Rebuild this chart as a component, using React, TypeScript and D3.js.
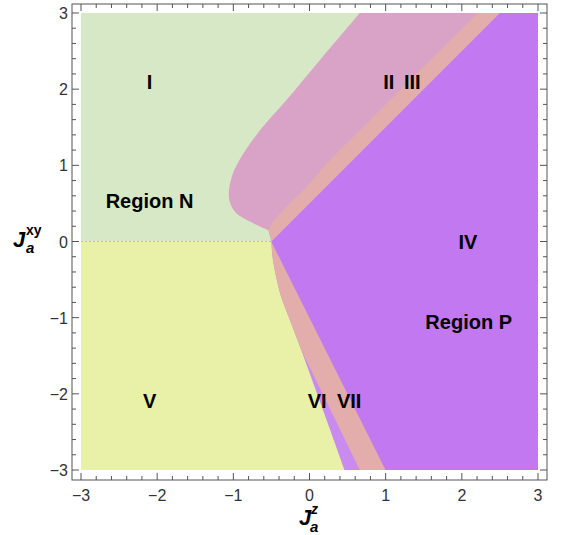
import { useEffect, useRef } from 'react';
import * as d3 from 'd3';

const W = 564;
const H = 535;

const xTicks = [-3, -2, -1, 0, 1, 2, 3];
const yTicks = [-3, -2, -1, 0, 1, 2, 3];

// region boundaries as (Jz, Jxy) points
const boundaryI_II = [[-0.54, 0.15], [-0.74, 0.24], [-0.96, 0.37], [-1.04, 0.5], [-1.06, 0.63], [-1.02, 0.85], [-0.92, 1.07], [-0.65, 1.46], [-0.3, 1.86], [0.135, 2.38], [0.66, 3]];
const boundaryII_III = [[-0.54, 0.15], [-0.48, 0.26], [-0.3, 0.46], [-0.04, 0.72], [0.27, 1.07], [0.79, 1.59], [2.21, 3]];
const boundaryIII_IV = [[-0.5, 0], [2.5, 3]];
const boundaryVII_IV = [[-0.5, 0], [1.0, -3]];
const boundaryV_VI = [[-0.5, 0], [-0.49, -0.15], [-0.47, -0.3], [-0.38, -0.7], [-0.25, -1.05], [-0.11, -1.42], [0.13, -2.08], [0.46, -3]];
const boundaryVI_VII = [[-0.11, -1.42], [0.66, -3]];
const zeroLine = [[-3, 0], [-0.5, 0]];

const regionLabels = [
  { text: 'I', x: -2.1, y: 2.1 },
  { text: 'II', x: 1.04, y: 2.1 },
  { text: 'III', x: 1.35, y: 2.1 },
  { text: 'Region N', x: -2.1, y: 0.53 },
  { text: 'IV', x: 2.08, y: 0 },
  { text: 'Region P', x: 2.09, y: -1.06 },
  { text: 'V', x: -2.1, y: -2.1 },
  { text: 'VI', x: 0.1, y: -2.1 },
  { text: 'VII', x: 0.52, y: -2.1 },
];

const colors = {
  I: '#d7e8c7',
  II: '#d9a3c8',
  III: '#e2adaa',
  IV: '#c178f0',
  V: '#e9f1a9',
  VI: '#c98bf0',
  VII: '#e2adaa',
};

const fmt = (d) => (d < 0 ? '\u2212' + Math.abs(d) : String(d));

const App = () => {
  const svgRef = useRef(null);

  useEffect(() => {
    const svg = d3.select(svgRef.current);
    svg.selectAll('*').remove();

    const x = d3.scaleLinear().domain([-3, 3]).range([81, 538]);
    const y = d3.scaleLinear().domain([-3, 3]).range([470, 13]);
    const pad = 9;
    const fx0 = x(-3) - pad, fx1 = x(3) + pad;
    const fy0 = y(3) - pad, fy1 = y(-3) + 10;

    const smooth = d3.line().x((d) => x(d[0])).y((d) => y(d[1])).curve(d3.curveCatmullRom);
    const straight = d3.line().x((d) => x(d[0])).y((d) => y(d[1]));
    const poly = (pts) => straight(pts) + 'Z';

    const defs = svg.append('defs');
    defs.append('clipPath').attr('id', 'dataClip')
      .append('rect')
      .attr('x', x(-3)).attr('y', y(3))
      .attr('width', x(3) - x(-3)).attr('height', y(-3) - y(3));

    // right of the V boundary (regions VI + VII)
    const rightOfV = smooth(boundaryV_VI) + straight([[3, -3], [3, 0]]).replace(/^M/, 'L') + 'Z';
    defs.append('clipPath').attr('id', 'rightOfV')
      .append('path').attr('d', rightOfV);

    const g = svg.append('g').attr('clip-path', 'url(#dataClip)');

    // I (top half) and V (bottom half)
    g.append('path').attr('d', poly([[-3, 0], [-3, 3], [3, 3], [3, 0]])).attr('fill', colors.I);
    g.append('path').attr('d', poly([[-3, 0], [-3, -3], [3, -3], [3, 0]])).attr('fill', colors.V);

    // II: right of the I|II curve
    g.append('path')
      .attr('d', smooth(boundaryI_II) + straight([[3, 3], [3, 0], [-0.5, 0]]).replace(/^M/, 'L') + 'Z')
      .attr('fill', colors.II);

    // III: right of the II|III curve
    g.append('path')
      .attr('d', smooth(boundaryII_III) + straight([[3, 3], [3, 0], [-0.5, 0]]).replace(/^M/, 'L') + 'Z')
      .attr('fill', colors.III);

    // VI: right of the V curve
    g.append('path').attr('d', rightOfV).attr('fill', colors.VI);

    // VII: band next to region IV, clipped to the right of V
    const k = (boundaryVI_VII[1][0] - boundaryVI_VII[0][0]) / (boundaryVI_VII[1][1] - boundaryVI_VII[0][1]);
    const top = [boundaryVI_VII[0][0] - k * boundaryVI_VII[0][1], 0];
    g.append('g').attr('clip-path', 'url(#rightOfV)')
      .append('path')
      .attr('d', poly([boundaryVII_IV[0], boundaryVII_IV[1], boundaryVI_VII[1], boundaryVI_VII[0], top]))
      .attr('fill', colors.VII);

    // IV
    g.append('path')
      .attr('d', poly([boundaryIII_IV[0], boundaryIII_IV[1], [3, 3], [3, -3], boundaryVII_IV[1]]))
      .attr('fill', colors.IV);

    // faint dotted line along Jxy = 0
    g.append('path')
      .attr('d', straight(zeroLine))
      .attr('stroke', '#cfb0da')
      .attr('stroke-width', 1)
      .attr('stroke-dasharray', '2,2')
      .attr('fill', 'none');

    // region labels
    svg.append('g')
      .selectAll('text')
      .data(regionLabels)
      .enter()
      .append('text')
      .attr('x', (d) => x(d.x))
      .attr('y', (d) => y(d.y) + 7)
      .attr('text-anchor', 'middle')
      .style('font-family', '"Liberation Sans", Arial, sans-serif')
      .style('font-weight', 'bold')
      .style('font-size', '20px')
      .attr('fill', '#000')
      .text((d) => d.text);

    // frame
    const frame = svg.append('g');
    frame.append('rect')
      .attr('x', fx0).attr('y', fy0)
      .attr('width', fx1 - fx0).attr('height', fy1 - fy0)
      .attr('fill', 'none').attr('stroke', '#555').attr('stroke-width', 1);

    const minors = d3.range(-3, 3.001, 0.2).filter((v) => Math.abs(v - Math.round(v)) > 1e-6);
    const tickColor = '#555';
    const drawTicks = (vals, len) => {
      vals.forEach((v) => {
        frame.append('line').attr('x1', x(v)).attr('x2', x(v)).attr('y1', fy1).attr('y2', fy1 - len).attr('stroke', tickColor);
        frame.append('line').attr('x1', x(v)).attr('x2', x(v)).attr('y1', fy0).attr('y2', fy0 + len).attr('stroke', tickColor);
        frame.append('line').attr('y1', y(v)).attr('y2', y(v)).attr('x1', fx0).attr('x2', fx0 + len).attr('stroke', tickColor);
        frame.append('line').attr('y1', y(v)).attr('y2', y(v)).attr('x1', fx1).attr('x2', fx1 - len).attr('stroke', tickColor);
      });
    };
    drawTicks(xTicks, 7);
    drawTicks(minors, 4);

    const labelStyle = (sel) => sel
      .style('font-family', '"Liberation Sans", Arial, sans-serif')
      .style('font-size', '16px')
      .attr('fill', '#333');

    frame.append('g').selectAll('text').data(xTicks).enter().append('text')
      .attr('x', (d) => x(d)).attr('y', 501)
      .attr('text-anchor', 'middle')
      .call(labelStyle)
      .text(fmt);

    frame.append('g').selectAll('text').data(yTicks).enter().append('text')
      .attr('x', fx0 - 4).attr('y', (d) => y(d) + 6)
      .attr('text-anchor', 'end')
      .call(labelStyle)
      .text(fmt);

    // axis titles
    const titleFont = '"Liberation Sans", Arial, sans-serif';
    const addT = (tx, ty, txt, size) => svg.append('text')
      .attr('x', tx).attr('y', ty)
      .style('font-family', titleFont)
      .style('font-weight', 'bold')
      .style('font-style', 'italic')
      .style('font-size', size + 'px')
      .attr('fill', '#000')
      .text(txt);

    addT(299, 525, 'J', 22);
    addT(311, 514, 'z', 14);
    addT(310, 532, 'a', 15);

    addT(13, 247, 'J', 22);
    addT(26, 235, 'xy', 14).style('font-style', 'normal');
    addT(26, 253, 'a', 15);
  }, []);

  return (
    <svg
      ref={svgRef}
      width={W}
      height={H}
      style={{ position: 'absolute', left: 0, top: 0, background: '#fff' }}
    ></svg>
  );
};

export default App;
